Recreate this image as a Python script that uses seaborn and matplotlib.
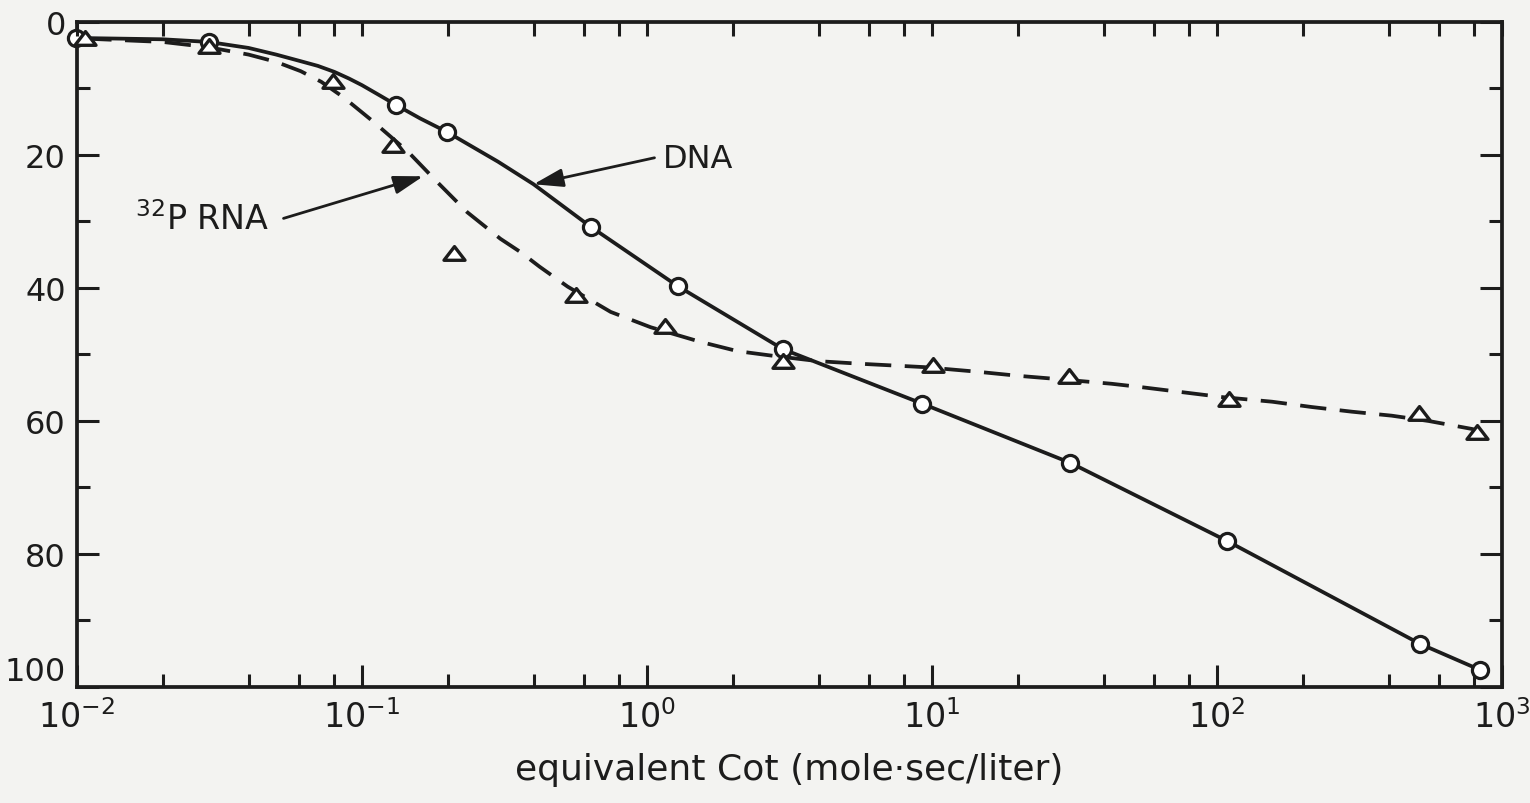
import matplotlib
matplotlib.use("Agg")
import matplotlib.pyplot as plt
import seaborn as sns
from matplotlib.path import Path
from matplotlib.ticker import FixedLocator, LogLocator, NullFormatter

# ---- data ----
dna_cot = [0.0099, 0.029, 0.132, 0.198, 0.635, 1.28, 3.0, 9.25, 30.6, 108, 515, 834]
dna_pct = [2.4, 3.0, 12.5, 16.5, 30.8, 39.7, 49.2, 57.4, 66.3, 78.0, 93.5, 97.4]

rna_cot = [0.0107, 0.029, 0.079, 0.129, 0.211, 0.562, 1.16, 3.0, 10.1, 30.3, 110, 511, 817]
rna_pct = [2.5, 3.8, 9.0, 18.6, 34.9, 41.2, 45.9, 51.1, 51.7, 53.4, 56.8, 58.9, 61.8]

# hand-drawn curves
dna_curve_cot = [0.0099, 0.02, 0.029, 0.04, 0.05, 0.061, 0.07, 0.08, 0.09, 0.1, 0.115, 0.132,
                 0.16, 0.198, 0.3, 0.40, 0.635, 1.28, 3.0, 9.25, 30.6, 108, 515, 834]
dna_curve_pct = [2.4, 2.6, 3.0, 3.9, 4.9, 5.9, 6.6, 7.5, 8.5, 9.5, 11.0, 12.5,
                 14.5, 16.5, 21.0, 24.4, 30.8, 39.7, 49.2, 57.4, 66.3, 78.0, 93.5, 97.4]

rna_curve_cot = [0.0107, 0.02, 0.029, 0.04, 0.05, 0.061, 0.072, 0.086, 0.109, 0.145, 0.184, 0.234,
                 0.306, 0.36, 0.42, 0.527, 0.746, 1.03, 1.54, 2.08, 2.77, 3.98, 5.64,
                 9.4, 14.5, 20, 27.7, 42.6, 54, 104, 156, 215, 297, 410, 553, 785, 817]
rna_curve_pct = [2.5, 3.0, 3.8, 4.9, 6.0, 7.4, 9.0, 11.3, 14.9, 19.5, 24.1, 28.6,
                 32.6, 34.6, 36.8, 39.8, 43.6, 45.9, 48.1, 49.5, 50.2, 51.0, 51.4,
                 51.9, 52.6, 53.2, 53.7, 54.4, 54.9, 56.4, 57.1, 57.9, 58.6, 59.2, 60.0, 61.2, 61.4]

xtick_values = [1e-2, 1e-1, 1e0, 1e1, 1e2, 1e3]
xtick_labels = ["$10^{-2}$", "$10^{-1}$", "$10^{0}$", "$10^{1}$", "$10^{2}$", "$10^{3}$"]
ytick_values = [0, 20, 40, 60, 80, 100]
ytick_labels = ["0", "20", "40", "60", "80", "100"]
yminor_values = [10, 30, 50, 70, 90]

xlabel = "equivalent Cot (mole·sec/liter)"

# ---- style ----
sns.set_theme(style="ticks")
paper = "#f3f3f1"
ink = "#1c1c1c"
plt.rcParams["font.family"] = ["DejaVu Sans"]
plt.rcParams["mathtext.fontset"] = "dejavusans"

fig = plt.figure(figsize=(15.3, 8.04), dpi=100, facecolor=paper)
ax = fig.add_axes([0.0503, 0.1443, 0.9314, 0.8271])
ax.set_facecolor(paper)

# curves
sns.lineplot(x=dna_curve_cot, y=dna_curve_pct, ax=ax, color=ink, linewidth=2.7,
             estimator=None, sort=False, zorder=3)
sns.lineplot(x=rna_curve_cot, y=rna_curve_pct, ax=ax, color=ink, linewidth=2.7,
             estimator=None, sort=False, linestyle=(0, (7, 3.6)), zorder=3)

# markers
flat_triangle = Path([(-1.0, -0.55), (1.0, -0.55), (0.0, 0.75), (-1.0, -0.55)],
                     [Path.MOVETO, Path.LINETO, Path.LINETO, Path.CLOSEPOLY])
sns.scatterplot(x=dna_cot, y=dna_pct, ax=ax, marker="o", s=135, color="white",
                edgecolor=ink, linewidth=2.3, zorder=5, clip_on=False)
sns.scatterplot(x=rna_cot, y=rna_pct, ax=ax, marker=flat_triangle, s=230, color="white",
                edgecolor=ink, linewidth=2.4, zorder=5, clip_on=False)

ax.set_xscale("log")
ax.set_xlim(1e-2, 1e3)
ax.set_ylim(100, 0)

ax.xaxis.set_major_locator(FixedLocator(xtick_values))
ax.set_xticklabels(xtick_labels, fontsize=24, color=ink)
ax.xaxis.set_minor_locator(LogLocator(base=10, subs=(2, 4, 6, 8)))
ax.xaxis.set_minor_formatter(NullFormatter())

ax.yaxis.set_major_locator(FixedLocator(ytick_values))
ax.set_yticklabels(ytick_labels, fontsize=23, color=ink)
ax.yaxis.set_minor_locator(FixedLocator(yminor_values))
# the bottom label sits just above the corner, as in the reference
ax.get_yticklabels()[-1].set_va("bottom")

ax.tick_params(axis="both", which="major", direction="in", length=16, width=2.2,
               color=ink, left=True, right=True, bottom=True, top=False)
ax.tick_params(axis="both", which="minor", direction="in", length=9.5, width=2.2,
               color=ink, left=True, right=True, bottom=True, top=False)
ax.tick_params(axis="x", which="major", pad=9)
ax.tick_params(axis="y", which="major", pad=8)

for sp in ax.spines.values():
    sp.set_visible(True)
    sp.set_linewidth(2.7)
    sp.set_color(ink)

# top ticks (all short)
ax2 = ax.twiny()
ax2.set_xscale("log")
ax2.set_xlim(ax.get_xlim())
ax2.xaxis.set_major_locator(FixedLocator(xtick_values))
ax2.xaxis.set_minor_locator(LogLocator(base=10, subs=(2, 4, 6, 8)))
ax2.xaxis.set_major_formatter(NullFormatter())
ax2.xaxis.set_minor_formatter(NullFormatter())
ax2.tick_params(axis="x", which="both", direction="in", length=10, width=2.2,
                color=ink, top=True, bottom=False, labeltop=False)
for sp in ax2.spines.values():
    sp.set_visible(False)

ax.set_xlabel(xlabel, fontsize=26, color=ink, labelpad=13)
ax.set_ylabel("")

# annotations
arrow = dict(arrowstyle="-|>,head_length=0.9,head_width=0.28", color=ink, lw=2.0,
             mutation_scale=20, shrinkA=4, shrinkB=0)
ax.annotate("DNA", xy=(0.40, 24.4), xytext=(1.14, 20.6), textcoords="data",
            ha="left", va="center", fontsize=23, color=ink,
            arrowprops=dict(arrow, relpos=(0.0, 0.6)))
ax.annotate("$^{32}$P RNA", xy=(0.164, 23.2), xytext=(0.016, 31.1), textcoords="data",
            ha="left", va="baseline", fontsize=24, color=ink,
            arrowprops=dict(arrow, relpos=(1.0, 0.38), shrinkA=8))

fig.savefig("out.png", dpi=100, facecolor=paper)
